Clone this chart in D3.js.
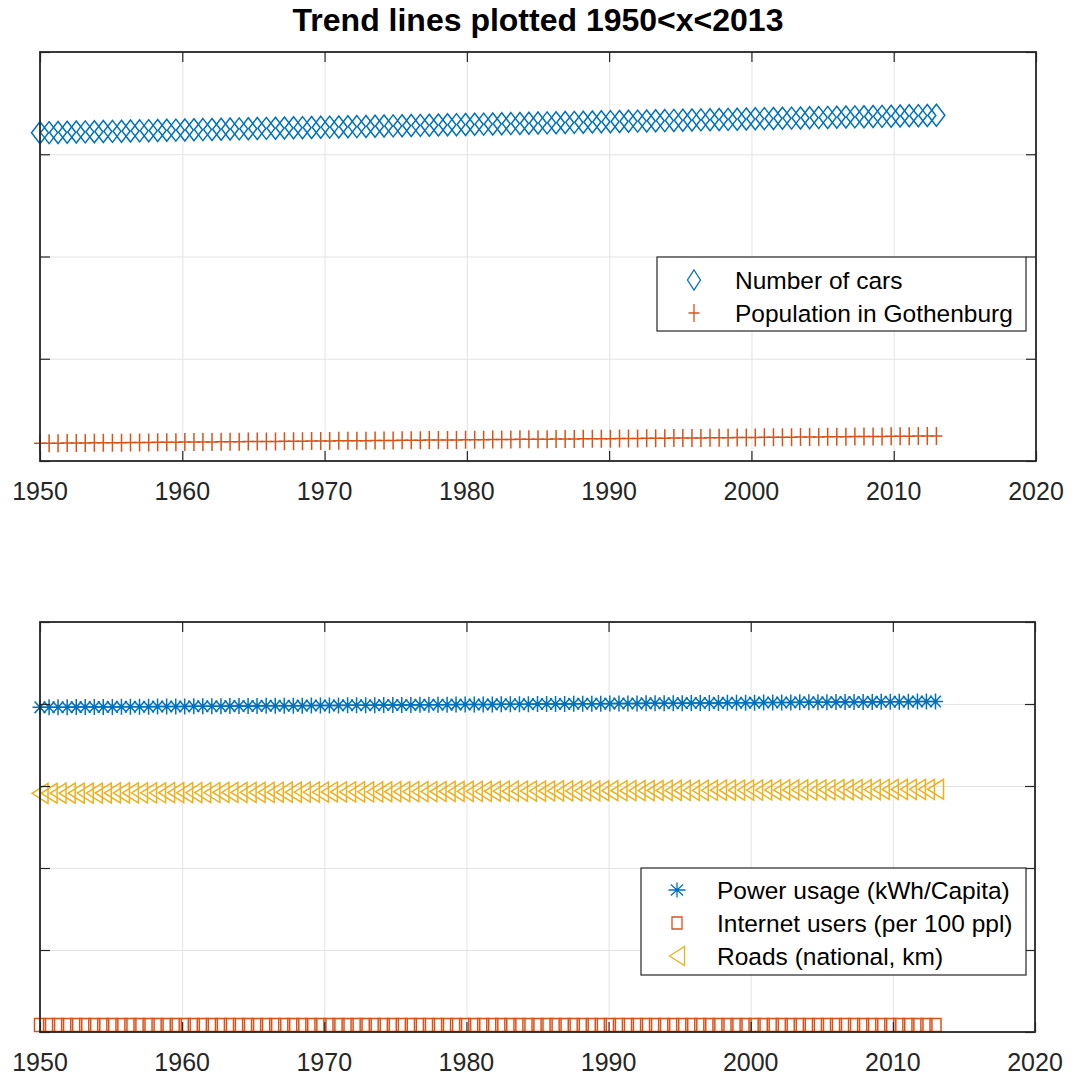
<!DOCTYPE html>
<html>
<head>
<meta charset="utf-8">
<script src="https://cdn.jsdelivr.net/npm/d3@7"></script>
<style>
  body { margin: 0; background: #ffffff; }
  svg { display: block; }
  text { font-family: "Liberation Sans", Arial, Helvetica, sans-serif; }
</style>
</head>
<body>
<svg id="chart" width="1072" height="1075"></svg>
<script>
// Sample years shared by every trend line (1950 to 2013, 100 samples)
const years = [
  1950.00, 1950.64, 1951.27, 1951.91, 1952.55, 1953.18, 1953.82, 1954.45, 1955.09, 1955.73, 1956.36,
  1957.00, 1957.64, 1958.27, 1958.91, 1959.55, 1960.18, 1960.82, 1961.45, 1962.09, 1962.73, 1963.36,
  1964.00, 1964.64, 1965.27, 1965.91, 1966.55, 1967.18, 1967.82, 1968.45, 1969.09, 1969.73, 1970.36,
  1971.00, 1971.64, 1972.27, 1972.91, 1973.55, 1974.18, 1974.82, 1975.45, 1976.09, 1976.73, 1977.36,
  1978.00, 1978.64, 1979.27, 1979.91, 1980.55, 1981.18, 1981.82, 1982.45, 1983.09, 1983.73, 1984.36,
  1985.00, 1985.64, 1986.27, 1986.91, 1987.55, 1988.18, 1988.82, 1989.45, 1990.09, 1990.73, 1991.36,
  1992.00, 1992.64, 1993.27, 1993.91, 1994.55, 1995.18, 1995.82, 1996.45, 1997.09, 1997.73, 1998.36,
  1999.00, 1999.64, 2000.27, 2000.91, 2001.55, 2002.18, 2002.82, 2003.45, 2004.09, 2004.73, 2005.36,
  2006.00, 2006.64, 2007.27, 2007.91, 2008.55, 2009.18, 2009.82, 2010.45, 2011.09, 2011.73, 2012.36,
  2013.00
];

// Upper panel trend values
const numberOfCars = [
  321.00, 321.17, 321.35, 321.52, 321.69, 321.86, 322.04, 322.21, 322.38, 322.55, 322.73,
  322.90, 323.07, 323.25, 323.42, 323.59, 323.76, 323.94, 324.11, 324.28, 324.45, 324.63,
  324.80, 324.97, 325.15, 325.32, 325.49, 325.66, 325.84, 326.01, 326.18, 326.35, 326.53,
  326.70, 326.87, 327.05, 327.22, 327.39, 327.56, 327.74, 327.91, 328.08, 328.25, 328.43,
  328.60, 328.77, 328.95, 329.12, 329.29, 329.46, 329.64, 329.81, 329.98, 330.15, 330.33,
  330.50, 330.67, 330.85, 331.02, 331.19, 331.36, 331.54, 331.71, 331.88, 332.05, 332.23,
  332.40, 332.57, 332.75, 332.92, 333.09, 333.26, 333.44, 333.61, 333.78, 333.95, 334.13,
  334.30, 334.47, 334.65, 334.82, 334.99, 335.16, 335.34, 335.51, 335.68, 335.85, 336.03,
  336.20, 336.37, 336.55, 336.72, 336.89, 337.06, 337.24, 337.41, 337.58, 337.75, 337.93,
  338.10
];

const populationGothenburg = [
  17.30, 17.37, 17.45, 17.52, 17.59, 17.66, 17.74, 17.81, 17.88, 17.95, 18.03,
  18.10, 18.17, 18.25, 18.32, 18.39, 18.46, 18.54, 18.61, 18.68, 18.75, 18.83,
  18.90, 18.97, 19.05, 19.12, 19.19, 19.26, 19.34, 19.41, 19.48, 19.55, 19.63,
  19.70, 19.77, 19.85, 19.92, 19.99, 20.06, 20.14, 20.21, 20.28, 20.35, 20.43,
  20.50, 20.57, 20.65, 20.72, 20.79, 20.86, 20.94, 21.01, 21.08, 21.15, 21.23,
  21.30, 21.37, 21.45, 21.52, 21.59, 21.66, 21.74, 21.81, 21.88, 21.95, 22.03,
  22.10, 22.17, 22.25, 22.32, 22.39, 22.46, 22.54, 22.61, 22.68, 22.75, 22.83,
  22.90, 22.97, 23.05, 23.12, 23.19, 23.26, 23.34, 23.41, 23.48, 23.55, 23.63,
  23.70, 23.77, 23.85, 23.92, 23.99, 24.06, 24.14, 24.21, 24.28, 24.35, 24.43,
  24.50
];

// Lower panel trend values
const powerUsage = [
  395.90, 395.97, 396.05, 396.12, 396.19, 396.26, 396.34, 396.41, 396.48, 396.55, 396.63,
  396.70, 396.77, 396.85, 396.92, 396.99, 397.06, 397.14, 397.21, 397.28, 397.35, 397.43,
  397.50, 397.57, 397.65, 397.72, 397.79, 397.86, 397.94, 398.01, 398.08, 398.15, 398.23,
  398.30, 398.37, 398.45, 398.52, 398.59, 398.66, 398.74, 398.81, 398.88, 398.95, 399.03,
  399.10, 399.17, 399.25, 399.32, 399.39, 399.46, 399.54, 399.61, 399.68, 399.75, 399.83,
  399.90, 399.97, 400.05, 400.12, 400.19, 400.26, 400.34, 400.41, 400.48, 400.55, 400.63,
  400.70, 400.77, 400.85, 400.92, 400.99, 401.06, 401.14, 401.21, 401.28, 401.35, 401.43,
  401.50, 401.57, 401.65, 401.72, 401.79, 401.86, 401.94, 402.01, 402.08, 402.15, 402.23,
  402.30, 402.37, 402.45, 402.52, 402.59, 402.66, 402.74, 402.81, 402.88, 402.95, 403.03,
  403.10
];

const internetUsers = [
  8.50, 8.50, 8.50, 8.50, 8.50, 8.50, 8.50, 8.50, 8.50, 8.50, 8.50,
  8.50, 8.50, 8.50, 8.50, 8.50, 8.50, 8.50, 8.50, 8.50, 8.50, 8.50,
  8.50, 8.50, 8.50, 8.50, 8.50, 8.50, 8.50, 8.50, 8.50, 8.50, 8.50,
  8.50, 8.50, 8.50, 8.50, 8.50, 8.50, 8.50, 8.50, 8.50, 8.50, 8.50,
  8.50, 8.50, 8.50, 8.50, 8.50, 8.50, 8.50, 8.50, 8.50, 8.50, 8.50,
  8.50, 8.50, 8.50, 8.50, 8.50, 8.50, 8.50, 8.50, 8.50, 8.50, 8.50,
  8.50, 8.50, 8.50, 8.50, 8.50, 8.50, 8.50, 8.50, 8.50, 8.50, 8.50,
  8.50, 8.50, 8.50, 8.50, 8.50, 8.50, 8.50, 8.50, 8.50, 8.50, 8.50,
  8.50, 8.50, 8.50, 8.50, 8.50, 8.50, 8.50, 8.50, 8.50, 8.50, 8.50,
  8.50
];

const roadsNational = [
  291.10, 291.15, 291.20, 291.25, 291.30, 291.35, 291.40, 291.45, 291.50, 291.55,
  291.60, 291.65, 291.70, 291.75, 291.80, 291.85, 291.90, 291.95, 292.00, 292.05,
  292.10, 292.15, 292.20, 292.25, 292.30, 292.35, 292.40, 292.45, 292.50, 292.55,
  292.60, 292.65, 292.70, 292.75, 292.80, 292.85, 292.90, 292.95, 293.00, 293.05,
  293.10, 293.15, 293.20, 293.25, 293.30, 293.35, 293.40, 293.45, 293.50, 293.55,
  293.60, 293.65, 293.70, 293.75, 293.80, 293.85, 293.90, 293.95, 294.00, 294.05,
  294.10, 294.15, 294.20, 294.25, 294.30, 294.35, 294.40, 294.45, 294.50, 294.55,
  294.60, 294.65, 294.70, 294.75, 294.80, 294.85, 294.90, 294.95, 295.00, 295.05,
  295.10, 295.15, 295.20, 295.25, 295.30, 295.35, 295.40, 295.45, 295.50, 295.55,
  295.60, 295.65, 295.70, 295.75, 295.80, 295.85, 295.90, 295.95, 296.00, 296.05
];

// Axis ticks and labels
const xTicks = [1950, 1960, 1970, 1980, 1990, 2000, 2010, 2020];
const xTickLabels = ["1950", "1960", "1970", "1980", "1990", "2000", "2010", "2020"];
const topYTicks = [0, 100, 200, 300, 400];
const bottomYTicks = [0, 100, 200, 300, 400, 500];

const titleText = "Trend lines plotted 1950<x<2013";
const topSeriesNames = ["Number of cars", "Population in Gothenburg"];
const bottomSeriesNames = ["Power usage (kWh/Capita)", "Internet users (per 100 ppl)", "Roads (national, km)"];

// ---- drawing ----
const svg = d3.select("#chart");
const BLUE = "#0072BD", ORANGE = "#D95319", YELLOW = "#EDB120";
const AXIS = "#262626", GRID = "#e3e3e3";

// Marker shapes (width, height in px)
const markers = {
  diamond: (w, h) => `M0,${-h/2}L${w/2},0L0,${h/2}L${-w/2},0Z`,
  plus: (w, h) => `M${-w/2},0H${w/2}M0,${-h/2}V${h/2}`,
  asterisk: (w, h) => {
    const a = w / 2, b = h / 2, c = a * 0.72, d = b * 0.72;
    return `M${-a},0H${a}M0,${-b}V${b}M${-c},${-d}L${c},${d}M${-c},${d}L${c},${-d}`;
  },
  square: (w, h) => `M${-w/2},${-h/2}H${w/2}V${h/2}H${-w/2}Z`,
  triangleLeft: (w, h) => `M${-w/2},0L${w/2},${-h/2}L${w/2},${h/2}Z`
};

function drawPanel(p) {
  const x = d3.scaleLinear().domain([1950, 2020]).range([p.left, p.right]);
  const y = d3.scaleLinear().domain(p.yDomain).range([p.bottom, p.top]);
  const g = svg.append("g");
  const h = p.bottom - p.top, w = p.right - p.left;

  // grid
  const gx = g.append("g").attr("transform", `translate(0,${p.bottom})`)
    .call(d3.axisBottom(x).tickValues(xTicks).tickSize(-h).tickFormat(""));
  const gy = g.append("g").attr("transform", `translate(${p.left},0)`)
    .call(d3.axisLeft(y).tickValues(p.yTicks).tickSize(-w).tickFormat(""));
  [gx, gy].forEach(a => {
    a.select(".domain").remove();
    a.selectAll(".tick line").attr("stroke", GRID).attr("stroke-width", 1);
  });

  // data markers
  p.series.forEach(s => {
    const path = markers[s.shape](s.w, s.h);
    g.append("g").selectAll("path").data(s.values.map((v, i) => [years[i], v]))
      .join("path")
      .attr("transform", d => `translate(${x(d[0])},${y(d[1])})`)
      .attr("d", path)
      .attr("fill", "none")
      .attr("stroke", s.color)
      .attr("stroke-width", 1.5);
  });

  // inward ticks on all four sides
  const tick = 10;
  const ticks = [
    [d3.axisBottom(x).tickValues(xTicks), `translate(0,${p.bottom})`],
    [d3.axisTop(x).tickValues(xTicks), `translate(0,${p.top})`],
    [d3.axisLeft(y).tickValues(p.yTicks), `translate(${p.left},0)`],
    [d3.axisRight(y).tickValues(p.yTicks), `translate(${p.right},0)`]
  ];
  ticks.forEach(([ax, tr]) => {
    const a = g.append("g").attr("transform", tr)
      .call(ax.tickSize(-tick).tickSizeOuter(0).tickFormat(""));
    a.select(".domain").remove();
    a.selectAll(".tick line").attr("stroke", AXIS).attr("stroke-width", 1.2);
  });

  // box
  g.append("rect").attr("x", p.left).attr("y", p.top).attr("width", w).attr("height", h)
    .attr("fill", "none").attr("stroke", AXIS).attr("stroke-width", 1.8);

  // x tick labels
  g.append("g").selectAll("text").data(xTicks).join("text")
    .attr("x", d => x(d)).attr("y", p.bottom + 39)
    .attr("text-anchor", "middle").attr("font-size", 25).attr("fill", AXIS)
    .text((d, i) => xTickLabels[i]);

  // legend
  const L = p.legend;
  const lg = g.append("g");
  lg.append("rect").attr("x", L.x).attr("y", L.y).attr("width", L.w).attr("height", L.h)
    .attr("fill", "#ffffff").attr("stroke", AXIS).attr("stroke-width", 1.2);
  p.series.forEach((s, i) => {
    const cy = L.rows[i];
    lg.append("path").attr("transform", `translate(${L.markerX},${cy})`)
      .attr("d", markers[s.shape](s.lw || s.w, s.lh || s.h))
      .attr("fill", "none").attr("stroke", s.color).attr("stroke-width", 1.3);
    lg.append("text").attr("x", L.textX).attr("y", cy + 8.5)
      .attr("font-size", 24.5).attr("fill", "#000").text(s.name);
  });
}

drawPanel({
  left: 40, right: 1036, top: 52, bottom: 461,
  yDomain: [0, 400], yTicks: topYTicks,
  series: [
    { name: topSeriesNames[0], values: numberOfCars, shape: "diamond", w: 17, h: 22, lw: 13, lh: 20, color: BLUE },
    { name: topSeriesNames[1], values: populationGothenburg, shape: "plus", w: 12, h: 18, lw: 11, lh: 18, color: ORANGE }
  ],
  legend: { x: 657, y: 257, w: 369, h: 74, markerX: 694, textX: 735, rows: [280, 313] }
});

drawPanel({
  left: 40, right: 1035, top: 622, bottom: 1032,
  yDomain: [0, 500], yTicks: bottomYTicks,
  series: [
    { name: bottomSeriesNames[0], values: powerUsage, shape: "asterisk", w: 15, h: 16, lw: 17, lh: 15, color: BLUE },
    { name: bottomSeriesNames[1], values: internetUsers, shape: "square", w: 11, h: 13, lw: 10, lh: 12, color: ORANGE },
    { name: bottomSeriesNames[2], values: roadsNational, shape: "triangleLeft", w: 16, h: 20, lw: 15, lh: 19, color: YELLOW }
  ],
  legend: { x: 641, y: 868, w: 385, h: 107, markerX: 677, textX: 717, rows: [890, 923, 956] }
});

// title
svg.append("text").attr("x", 538).attr("y", 31)
  .attr("text-anchor", "middle").attr("font-size", 32).attr("font-weight", "bold")
  .attr("fill", "#000").text(titleText);
</script>
</body>
</html>
